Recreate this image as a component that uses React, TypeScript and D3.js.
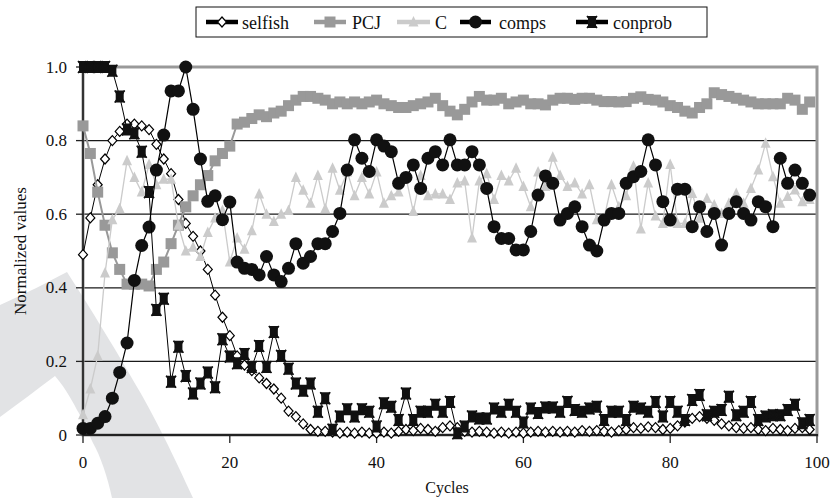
import React from "react";
import * as d3 from "d3";

// cycle index 0..99, one point per cycle
const cycles = d3.range(0, 100);

const selfish = [
  0.49, 0.59, 0.68, 0.75, 0.8, 0.825, 0.845, 0.845, 0.84, 0.83,
  0.79, 0.75, 0.71, 0.64, 0.575, 0.54, 0.5, 0.45, 0.38, 0.32,
  0.27, 0.215, 0.19, 0.175, 0.155, 0.14, 0.125, 0.1, 0.065, 0.05,
  0.03, 0.015, 0.01, 0.01, 0.008, 0.005, 0.008, 0.005, 0.008, 0.005,
  0.005, 0.008, 0.005, 0.01, 0.015, 0.012, 0.018, 0.015, 0.01, 0.02,
  0.025, 0.02, 0.01, 0.008, 0.01, 0.008, 0.005, 0.008, 0.005, 0.008,
  0.005, 0.008, 0.01, 0.008, 0.01, 0.008, 0.01, 0.008, 0.012, 0.01,
  0.012, 0.01, 0.008, 0.012, 0.015, 0.02, 0.018, 0.022, 0.02, 0.015,
  0.018, 0.025, 0.035, 0.045, 0.05, 0.045, 0.04, 0.03, 0.025, 0.02,
  0.018, 0.02, 0.015, 0.012, 0.018, 0.015, 0.012, 0.018, 0.02, 0.015,
];

const pcj = [
  0.84, 0.765, 0.66, 0.57, 0.495, 0.45, 0.41, 0.41, 0.41, 0.405,
  0.45, 0.47, 0.52, 0.57, 0.62, 0.65, 0.68, 0.705, 0.745, 0.765,
  0.785, 0.845, 0.85, 0.86, 0.87, 0.865, 0.875, 0.88, 0.895, 0.91,
  0.92, 0.92, 0.915, 0.91, 0.9, 0.905, 0.9, 0.905, 0.9, 0.905,
  0.91, 0.9, 0.895, 0.89, 0.89, 0.895, 0.9, 0.905, 0.915, 0.895,
  0.88, 0.87, 0.885, 0.905, 0.92, 0.91, 0.91, 0.915, 0.9, 0.905,
  0.91, 0.9, 0.9, 0.897, 0.91, 0.915, 0.915, 0.912, 0.915, 0.915,
  0.91, 0.906, 0.906, 0.905, 0.906, 0.915, 0.919, 0.912, 0.91, 0.905,
  0.895, 0.89, 0.88, 0.875, 0.89, 0.9, 0.93, 0.925, 0.92, 0.915,
  0.91, 0.905, 0.9, 0.9, 0.9, 0.9, 0.915, 0.91, 0.885, 0.905,
];

const cValues = [
  0.055, 0.125, 0.215, 0.44, 0.585, 0.615, 0.745, 0.7, 0.66, 0.735,
  0.68, 0.695, 0.695, 0.57, 0.5, 0.51, 0.485, 0.55, 0.59, 0.61,
  0.47, 0.535, 0.505, 0.555, 0.655, 0.6, 0.58, 0.6, 0.61, 0.7,
  0.665, 0.63, 0.705, 0.615, 0.725, 0.665, 0.715, 0.65, 0.7, 0.655,
  0.715, 0.63, 0.65, 0.66, 0.7, 0.607, 0.705, 0.65, 0.655, 0.655,
  0.64, 0.685, 0.69, 0.535, 0.69, 0.71, 0.64, 0.705, 0.69, 0.725,
  0.675, 0.62, 0.715, 0.675, 0.755, 0.705, 0.675, 0.685, 0.655, 0.68,
  0.585, 0.59, 0.68, 0.62, 0.65, 0.73, 0.56, 0.685, 0.595, 0.575,
  0.735, 0.575, 0.575, 0.656, 0.589, 0.643, 0.625, 0.602, 0.63, 0.656,
  0.63, 0.67, 0.72, 0.793, 0.702, 0.63, 0.648, 0.666, 0.634, 0.64,
];

const comps = [
  0.018, 0.018, 0.032, 0.05, 0.1, 0.17, 0.25, 0.42, 0.515, 0.565,
  0.72, 0.815, 0.935, 0.935, 1.0, 0.885, 0.75, 0.635, 0.65, 0.585,
  0.633, 0.47, 0.453, 0.45, 0.435, 0.485, 0.435, 0.417, 0.453, 0.52,
  0.467, 0.485, 0.52, 0.52, 0.553, 0.602, 0.72, 0.802, 0.752, 0.716,
  0.802, 0.785, 0.77, 0.684, 0.7, 0.734, 0.67, 0.752, 0.77, 0.734,
  0.802, 0.734, 0.734, 0.77, 0.734, 0.67, 0.566, 0.534, 0.534, 0.503,
  0.503, 0.553, 0.652, 0.704, 0.684, 0.584, 0.602, 0.62, 0.566, 0.516,
  0.5, 0.584, 0.602, 0.602, 0.684, 0.702, 0.716, 0.802, 0.734, 0.634,
  0.584, 0.668, 0.668, 0.566, 0.62, 0.553, 0.602, 0.516, 0.602, 0.634,
  0.602, 0.584, 0.634, 0.62, 0.566, 0.752, 0.684, 0.72, 0.684, 0.652,
];

const conprob = [
  1.0, 1.0, 1.0, 1.0, 0.99, 0.92, 0.83, 0.82, 0.77, 0.66,
  0.34, 0.37, 0.145, 0.24, 0.16, 0.113, 0.14, 0.17, 0.13, 0.26,
  0.213, 0.195, 0.22, 0.185, 0.242, 0.185, 0.28, 0.215, 0.18, 0.14,
  0.12, 0.14, 0.063, 0.1, 0.014, 0.05, 0.07, 0.05, 0.07, 0.063,
  0.023, 0.086, 0.077, 0.041, 0.113, 0.041, 0.063, 0.063, 0.082, 0.063,
  0.09, 0.005, 0.023, 0.05, 0.045, 0.045, 0.072, 0.063, 0.082, 0.063,
  0.034, 0.072, 0.06, 0.075, 0.075, 0.063, 0.09, 0.068, 0.063, 0.072,
  0.077, 0.041, 0.063, 0.063, 0.041, 0.077, 0.072, 0.063, 0.09, 0.05,
  0.09, 0.063, 0.041, 0.095, 0.109, 0.054, 0.063, 0.068, 0.104, 0.054,
  0.063, 0.09, 0.041, 0.05, 0.054, 0.054, 0.068, 0.082, 0.032, 0.041,
];

const yTicks = [0, 0.2, 0.4, 0.6, 0.8, 1.0];
const xTicks = [0, 20, 40, 60, 80, 100];

const FONT =
  '"Liberation Serif", "Times New Roman", Times, "Nimbus Roman", "Nimbus Roman No9 L", "FreeSerif", "Noto Serif", "DejaVu Serif", "Tinos", serif';
const txt = { fontFamily: FONT };

const x = d3.scaleLinear().domain([0, 100]).range([83, 817]);
const y = d3.scaleLinear().domain([0, 1]).range([435, 67]);

const series = [
  { name: "selfish", values: selfish, kind: "diamond", stroke: "#000", width: 1 },
  { name: "PCJ", values: pcj, kind: "square", stroke: "#999", width: 2 },
  { name: "C", values: cValues, kind: "triangle", stroke: "#cbcbcb", width: 1.3 },
  { name: "comps", values: comps, kind: "circle", stroke: "#000", width: 1.2 },
  { name: "conprob", values: conprob, kind: "star", stroke: "#000", width: 1 },
];

// legend layout: sample line start/end and text start
const legendPos = [
  { s0: 206, s1: 238, t: 242 },
  { s0: 314, s1: 346, t: 352 },
  { s0: 397, s1: 430, t: 435 },
  { s0: 460, s1: 491, t: 499 },
  { s0: 576, s1: 608, t: 613 },
];

function Marker({ kind, cx, cy }) {
  const t = `translate(${cx},${cy})`;
  if (kind === "diamond")
    return <path transform={t} d="M0,-5L4.5,0L0,5L-4.5,0Z" fill="#fff" stroke="#000" strokeWidth={1.2} />;
  if (kind === "square") return <rect x={cx - 5.5} y={cy - 5.5} width={11} height={11} fill="#999" />;
  if (kind === "triangle") return <path transform={t} d="M0,-6L5,4.5L-5,4.5Z" fill="#cbcbcb" />;
  if (kind === "circle") return <circle cx={cx} cy={cy} r={6.5} fill="#111" />;
  return (
    <g transform={t}>
      <path d="M-5,-6H5L2.5,0L5,6H-5L-2.5,0Z" fill="#111" />
      <rect x={-4} y={-3.5} width={8} height={7} fill="#111" />
      <path d="M-5,-6L5,6M5,-6L-5,6" stroke="#111" strokeWidth={1.6} fill="none" />
    </g>
  );
}

export default function App() {
  const line = d3
    .line<number>()
    .x((_, i) => x(cycles[i]))
    .y((d) => y(d));

  return (
    <svg width={837} height={498} style={{ position: "absolute", left: 0, top: 0, background: "#fff" }}>
      {/* publisher watermark in the background */}
      <path
        d="M0,305C25,294 48,282 67,272C85,300 112,343 140,392C156,420 172,452 193,498L112,498C108,478 100,455 93,443C86,428 80,414 77,410C70,396 62,384 55,376C36,390 18,404 0,417Z"
        fill="#e2e3e5"
      />

      {/* gridlines */}
      {yTicks.slice(1, -1).map((t) => (
        <line key={t} x1={x(0)} x2={x(100)} y1={y(t)} y2={y(t)} stroke="#1a1a1a" strokeWidth={1.3} />
      ))}

      {/* frame: gray top/right */}
      <rect x={x(0)} y={y(1)} width={x(100) - x(0)} height={y(0) - y(1)} fill="none" stroke="#999" strokeWidth={3} />
      <line x1={x(0)} x2={x(0)} y1={y(1)} y2={y(0)} stroke="#333" strokeWidth={2} />
      <line x1={x(0)} x2={x(100) + 1} y1={y(0)} y2={y(0)} stroke="#222" strokeWidth={2} />

      {/* y ticks */}
      {yTicks.map((t) => (
        <g key={t}>
          <line x1={76} x2={x(0)} y1={y(t)} y2={y(t)} stroke="#222" strokeWidth={1.3} />
          <text x={67} y={y(t)} textAnchor="end" dominantBaseline="central" fontSize={17} fill="#111" style={txt}>
            {t === 0 ? "0" : t.toFixed(1)}
          </text>
        </g>
      ))}

      {/* x ticks */}
      {xTicks.map((t) => (
        <g key={t}>
          <line x1={x(t)} x2={x(t)} y1={y(0)} y2={y(0) + 8} stroke="#222" strokeWidth={1.3} />
          <text x={x(t)} y={468} textAnchor="middle" fontSize={17} fill="#111" style={txt}>
            {t}
          </text>
        </g>
      ))}

      <text
        transform={`translate(20,${(y(0) + y(1)) / 2}) rotate(-90)`}
        textAnchor="middle"
        dominantBaseline="central"
        fontSize={17}
        fill="#111"
        style={txt}
      >
        Normalized values
      </text>
      <text x={447} y={493} textAnchor="middle" fontSize={16} fill="#111" style={txt}>
        Cycles
      </text>

      {/* series */}
      {series.map((s) => (
        <g key={s.name}>
          <path d={line(s.values) || ""} fill="none" stroke={s.stroke} strokeWidth={s.width} />
          {s.values.map((v, i) => (
            <Marker key={i} kind={s.kind} cx={x(cycles[i])} cy={y(v)} />
          ))}
        </g>
      ))}

      {/* legend */}
      <rect x={196} y={7} width={511} height={30} fill="#fff" stroke="#111" strokeWidth={1} />
      {series.map((s, i) => {
        const p = legendPos[i];
        return (
          <g key={s.name}>
            <line x1={p.s0} x2={p.s1} y1={22} y2={22} stroke={s.stroke} strokeWidth={4.5} />
            <Marker kind={s.kind} cx={(p.s0 + p.s1) / 2} cy={22} />
            <text x={p.t} y={28.5} fontSize={18} fill="#111" style={txt}>
              {s.name}
            </text>
          </g>
        );
      })}
    </svg>
  );
}
